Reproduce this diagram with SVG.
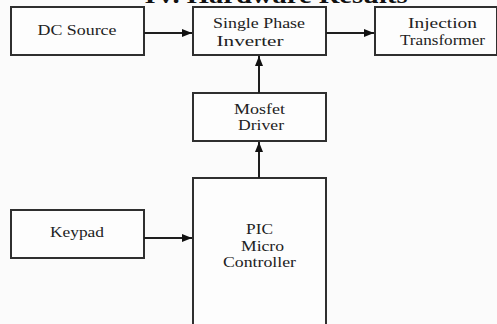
<svg xmlns="http://www.w3.org/2000/svg" width="497" height="324" viewBox="0 0 497 324">
<style>
.box{fill:#fdfdfd;stroke:#2f2f2f;stroke-width:2}
.t{font-family:"Liberation Serif","Times New Roman",serif;font-size:15.5px;fill:#222;text-anchor:middle}
.h{font-family:"Liberation Serif","Times New Roman",serif;font-size:24px;font-weight:bold;fill:#111;text-anchor:middle}
.c{stroke:#1e1e1e;stroke-width:2;fill:none}
</style>
<defs>
<marker id="ah" markerWidth="10" markerHeight="8" refX="10" refY="4" orient="auto" markerUnits="userSpaceOnUse">
<path d="M0,0 L10,4 L0,8 Z" fill="#111"/>
</marker>
</defs>
<rect width="497" height="324" fill="#fbfbfb"/>
<text class="h" x="276" y="2.5" textLength="263" lengthAdjust="spacingAndGlyphs">IV. Hardware Results</text>
<g id="dc-source">
<rect class="box" x="11" y="7" width="133" height="48"/>
<text class="t" x="77" y="35" textLength="79" lengthAdjust="spacingAndGlyphs">DC Source</text>
</g>
<g id="inverter">
<rect class="box" x="193" y="7" width="133" height="48"/>
<text class="t" x="259" y="28" textLength="92" lengthAdjust="spacingAndGlyphs">Single Phase</text>
<text class="t" x="250" y="46" textLength="67" lengthAdjust="spacingAndGlyphs">Inverter</text>
</g>
<g id="transformer">
<rect class="box" x="375" y="7" width="122" height="48"/>
<text class="t" x="442.5" y="28" textLength="69" lengthAdjust="spacingAndGlyphs">Injection</text>
<text class="t" x="442.5" y="45" textLength="85" lengthAdjust="spacingAndGlyphs">Transformer</text>
</g>
<g id="mosfet-driver">
<rect class="box" x="193" y="93" width="133" height="48"/>
<text class="t" x="259.5" y="114" textLength="51" lengthAdjust="spacingAndGlyphs">Mosfet</text>
<text class="t" x="261" y="130" textLength="46" lengthAdjust="spacingAndGlyphs">Driver</text>
</g>
<g id="keypad">
<rect class="box" x="11" y="210" width="133" height="48"/>
<text class="t" x="77" y="237" textLength="54" lengthAdjust="spacingAndGlyphs">Keypad</text>
</g>
<g id="pic">
<rect class="box" x="193" y="178" width="133" height="160"/>
<text class="t" x="259.5" y="234" textLength="27" lengthAdjust="spacingAndGlyphs">PIC</text>
<text class="t" x="262.5" y="251" textLength="43" lengthAdjust="spacingAndGlyphs">Micro</text>
<text class="t" x="259.5" y="267" textLength="73" lengthAdjust="spacingAndGlyphs">Controller</text>
</g>
<g id="connectors">
<line class="c" x1="144" y1="33" x2="192" y2="33" marker-end="url(#ah)"/>
<line class="c" x1="326" y1="33" x2="374" y2="33" marker-end="url(#ah)"/>
<line class="c" x1="259" y1="93" x2="259" y2="56" marker-end="url(#ah)"/>
<line class="c" x1="259" y1="178" x2="259" y2="142" marker-end="url(#ah)"/>
<line class="c" x1="144" y1="238" x2="192" y2="238" marker-end="url(#ah)"/>
</g>
</svg>
